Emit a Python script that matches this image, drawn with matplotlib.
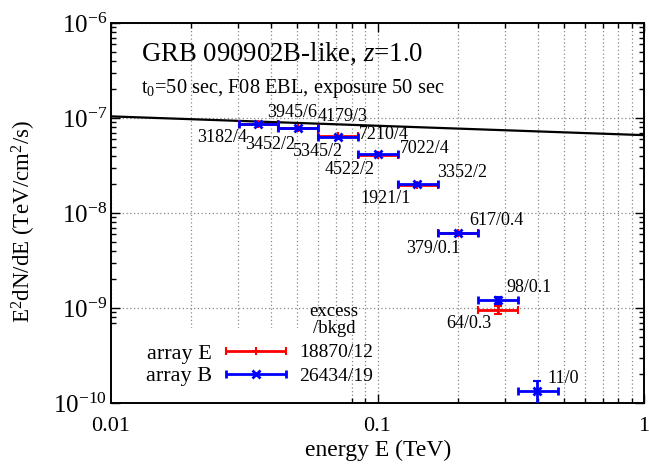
import numpy as np
import matplotlib
matplotlib.use("Agg")
import matplotlib.pyplot as plt
from matplotlib.patches import Rectangle
from matplotlib.legend_handler import HandlerErrorbar
from matplotlib.ticker import FixedLocator, FixedFormatter, LogLocator, NullFormatter

plt.rcParams['font.family'] = ['Liberation Serif', 'DejaVu Serif']
plt.rcParams['mathtext.fontset'] = 'custom'
plt.rcParams['mathtext.rm'] = 'Liberation Serif'
plt.rcParams['mathtext.it'] = 'Liberation Serif:italic'
plt.rcParams['mathtext.default'] = 'rm'

# ---- data ----
E_center = [0.0357, 0.0502, 0.0710, 0.100, 0.141, 0.200, 0.283, 0.398]
E_low = [0.0301, 0.0423, 0.0599, 0.0846, 0.119, 0.169, 0.239, 0.338]
E_high = [0.0423, 0.0599, 0.0846, 0.119, 0.169, 0.239, 0.338, 0.477]

blue_flux = [8.6e-8, 7.85e-8, 6.30e-8, 4.13e-8, 2.04e-8, 6.10e-9, 1.20e-9, 1.33e-10]
blue_yerr_lo = [0, 0, 0, 0, 0, 0, 0.10e-9, 0.9e-10]
blue_yerr_hi = [0, 0, 0, 0, 0, 0, 0.10e-9, 0.37e-10]

red_flux = [8.75e-8, 7.85e-8, 6.40e-8, 4.06e-8, 1.95e-8, 6.20e-9, 9.6e-10]
red_yerr_lo = [0, 0, 0, 0, 0, 0, 0.9e-10]
red_yerr_hi = [0, 0, 0, 0, 0, 0, 0.9e-10]

model_E = [0.01, 1.0]
model_flux = [1.04e-7, 6.6e-8]

labels_text = ["3945/6", "4179/3", "3182/4", "3452/2", "7210/4", "5345/2", "7022/4",
               "4522/2", "3352/2", "1921/1", "617/0.4", "379/0.1", "98/0.1", "64/0.3", "11/0"]
labels_E = [0.0477, 0.0738, 0.0261, 0.0396, 0.106, 0.0596, 0.151,
            0.0787, 0.208, 0.107, 0.279, 0.162, 0.371, 0.220, 0.497]
labels_flux = [1.15e-7, 1.04e-7, 6.2e-8, 5.3e-8, 6.7e-8, 4.45e-8, 4.83e-8,
               2.88e-8, 2.68e-8, 1.42e-8, 8.4e-9, 4.2e-9, 1.64e-9, 6.8e-10, 1.8e-10]

legend_names = ["array E", "array B"]
legend_totals = ["18870/12", "26434/19"]

x_ticks = [0.01, 0.1, 1]
x_ticklabels = ["0.01", "0.1", "1"]
y_ticks = [1e-10, 1e-9, 1e-8, 1e-7, 1e-6]
y_ticklabels = [r"$10^{-10}$", r"$10^{-9}$", r"$10^{-8}$", r"$10^{-7}$", r"$10^{-6}$"]

# ---- figure ----
fig = plt.figure(figsize=(6.49, 4.66), dpi=100)
ax = fig.add_axes([111/649, 1-403/466, 533/649, 380/466])
ax.set_xscale('log')
ax.set_yscale('log')
ax.set_xlim(0.01, 1)
ax.set_ylim(1e-10, 1e-6)
ax.set_axisbelow(True)

ax.xaxis.set_major_locator(FixedLocator(x_ticks))
ax.xaxis.set_major_formatter(FixedFormatter(x_ticklabels))
ax.xaxis.set_minor_locator(LogLocator(base=10, subs=np.arange(2, 10)))
ax.xaxis.set_minor_formatter(NullFormatter())
ax.yaxis.set_major_locator(FixedLocator(y_ticks))
ax.yaxis.set_major_formatter(FixedFormatter(y_ticklabels))
ax.yaxis.set_minor_locator(LogLocator(base=10, subs=np.arange(2, 10)))
ax.yaxis.set_minor_formatter(NullFormatter())

ax.tick_params(which='both', direction='in', top=True, right=True, width=1.0)
ax.tick_params(which='major', length=6.5)
ax.tick_params(axis='x', which='major', pad=10, labelsize=16)
ax.tick_params(axis='y', which='major', pad=3, labelsize=18)
ax.tick_params(which='minor', length=3.5)
for s in ax.spines.values():
    s.set_linewidth(1.4)

gridkw = dict(color='#888888', linestyle=(0, (1, 2)), linewidth=0.9)
ax.grid(True, which='major', axis='both', **gridkw)
ax.grid(True, which='minor', axis='x', **gridkw)

# opaque key area
ax.add_patch(Rectangle((0, 0), 0.448, 0.197, transform=ax.transAxes,
                       facecolor='white', edgecolor='none', zorder=0.8))

# model line
ax.plot(model_E, model_flux, color='black', lw=1.6, zorder=3)

Ec = np.array(E_center)
xlo = Ec - np.array(E_low)
xhi = np.array(E_high) - Ec
nr = len(red_flux)
common = dict(lw=2, capsize=2.8, capthick=1.5)
hE = ax.errorbar(Ec[:nr], red_flux, xerr=[xlo[:nr], xhi[:nr]], fmt='+',
                 color='#ff0000', ms=6, mew=1.5, zorder=4, label=legend_names[0], **common)
ax.errorbar(Ec[:nr], red_flux, yerr=[red_yerr_lo, red_yerr_hi], fmt='none',
            ecolor='#ff0000', zorder=4, **common)
hB = ax.errorbar(Ec, blue_flux, xerr=[xlo, xhi], fmt='x', color='#0000ff',
                 ms=6, mew=2, zorder=5, label=legend_names[1], **common)
ax.errorbar(Ec, blue_flux, yerr=[blue_yerr_lo, blue_yerr_hi], fmt='none',
            ecolor='#0000ff', zorder=5, **common)

for t, x, y in zip(labels_text, labels_E, labels_flux):
    ax.text(x, y, t, fontsize=13, ha='center', va='center', zorder=6)

ax.text(0.0683, 9.1e-10, "excess", fontsize=13.5, ha='center', va='center')
ax.text(0.0687, 6.05e-10, "/bkgd", fontsize=13.5, ha='center', va='center')
ax.text(0.0697, 3.44e-10, legend_totals[0], fontsize=14, ha='center', va='center', zorder=6)
ax.text(0.0697, 1.92e-10, legend_totals[1], fontsize=14, ha='center', va='center', zorder=6)

hmap = {hE: HandlerErrorbar(xerr_size=1.35), hB: HandlerErrorbar(xerr_size=1.35)}
leg = ax.legend(handles=[hE, hB], loc='center', bbox_to_anchor=(0.198, 0.101),
                frameon=False, markerfirst=False, fontsize=16, handlelength=2.8,
                handletextpad=0.6, borderpad=0, labelspacing=0.1, handler_map=hmap)

ax.text(0.013, 4.75e-7, "GRB 090902B-like, $\\it{z}$=1.0", fontsize=19.3,
        ha='left', va='center')
ax.text(0.013, 2.04e-7, "t$_0$=50 sec, F08 EBL, exposure 50 sec", fontsize=14.7,
        ha='left', va='center')

ax.set_xlabel("energy E (TeV)", fontsize=17)
ax.xaxis.set_label_coords(0.502, -0.098)
ax.set_ylabel("E$^2$dN/dE (TeV/cm$^2$/s)", fontsize=16.5)
ax.yaxis.set_label_coords(-0.137, 0.479)

fig.savefig("out.png", dpi=100)
